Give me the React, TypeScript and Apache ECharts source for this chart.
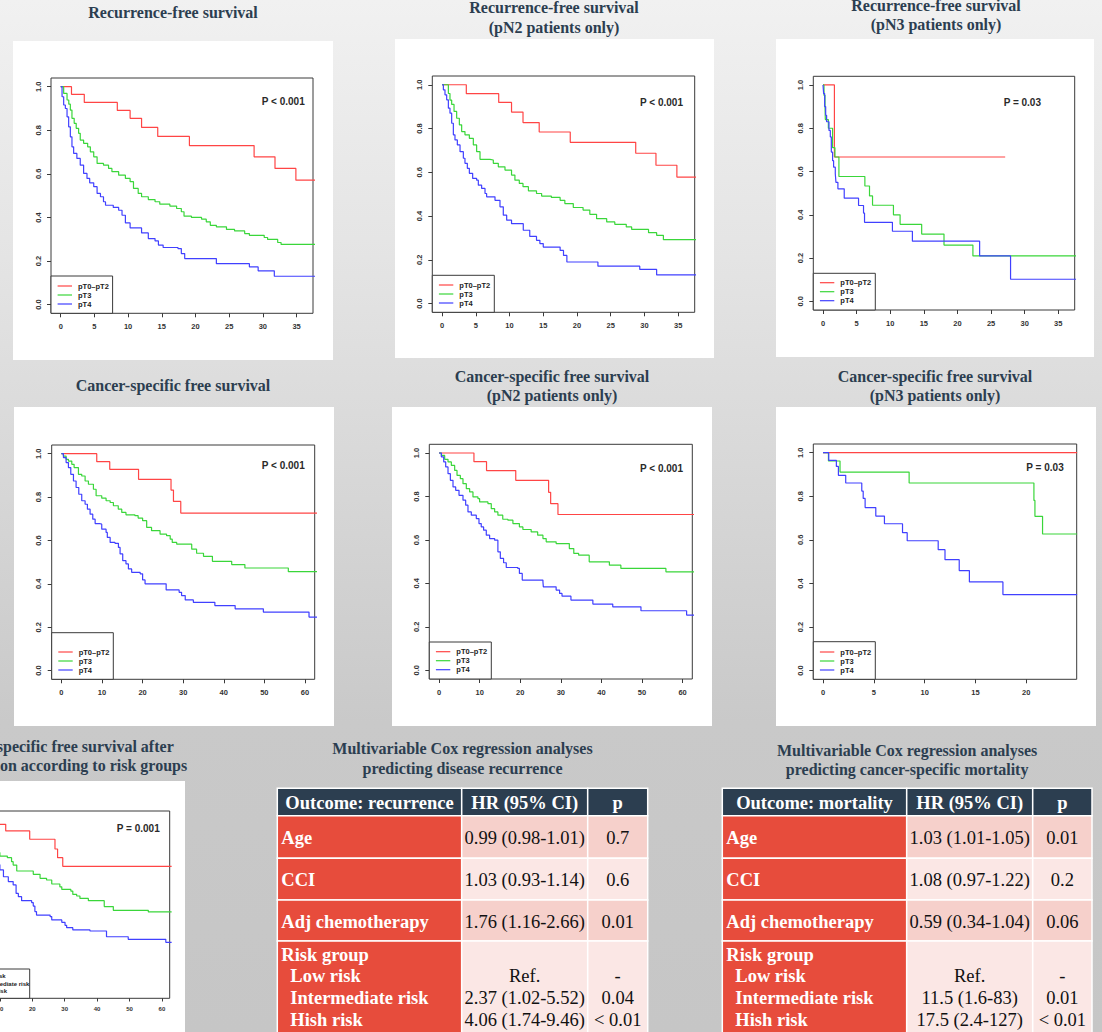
import React, { useEffect, useRef } from "react";
import * as echarts from "echarts";

type KM = [number, number][];

// ---------- Kaplan-Meier step data: [time (months), survival] ----------
// Recurrence-free survival, all patients
const RFS_ALL_PT02: KM = [[0,1],[1.6,0.965],[3.5,0.928],[8.4,0.891],[10.3,0.855],[12.0,0.813],[14.4,0.772],[19.1,0.73],[28.7,0.678],[31.8,0.625],[34.9,0.571],[38,0.571]];
const RFS_ALL_PT3: KM = [[0,1],[0.44,0.969],[0.94,0.939],[1.2,0.92],[1.43,0.893],[1.67,0.855],[2.0,0.832],[2.3,0.809],[2.66,0.786],[2.9,0.755],[3.4,0.74],[4.0,0.724],[4.4,0.701],[4.9,0.678],[5.4,0.648],[6.35,0.64],[7.1,0.625],[7.6,0.61],[8.6,0.594],[9.6,0.579],[10.3,0.564],[10.8,0.533],[11.5,0.51],[12.0,0.495],[13.0,0.482],[14.0,0.472],[14.7,0.461],[16.2,0.452],[17.2,0.441],[17.9,0.426],[18.3,0.406],[19.4,0.4],[20.9,0.392],[21.6,0.38],[22.2,0.364],[23.1,0.357],[24.6,0.345],[25.8,0.338],[27.3,0.326],[28.0,0.318],[30.2,0.308],[30.7,0.299],[32.2,0.285],[32.7,0.276],[38,0.276]];
const RFS_ALL_PT4: KM = [[0,1],[0.2,0.954],[0.44,0.916],[0.69,0.9],[0.94,0.862],[1.18,0.816],[1.43,0.77],[1.67,0.724],[1.92,0.694],[2.4,0.671],[2.9,0.64],[3.4,0.602],[3.9,0.579],[4.3,0.559],[4.9,0.541],[5.4,0.51],[5.9,0.495],[6.35,0.472],[6.65,0.456],[7.8,0.446],[8.6,0.433],[9.1,0.41],[9.6,0.375],[10.3,0.352],[12.0,0.329],[13.0,0.303],[14.0,0.292],[14.5,0.273],[15.2,0.262],[17.4,0.257],[17.9,0.234],[18.4,0.211],[23.1,0.188],[28.0,0.173],[29.3,0.155],[31.7,0.13],[38,0.13]];

// Recurrence-free survival, pN2 only
const RFS_PN2_PT02: KM = [[0,1],[3.6,0.959],[8.4,0.919],[10.3,0.875],[12.0,0.827],[14.4,0.784],[19.0,0.737],[28.7,0.687],[31.7,0.632],[34.8,0.578],[38,0.578]];
const RFS_PN2_PT3: KM = [[0,1],[0.69,1],[0.94,0.96],[1.18,0.93],[1.43,0.91],[1.78,0.878],[2.17,0.847],[2.57,0.817],[2.91,0.786],[3.4,0.771],[4.05,0.755],[4.64,0.725],[5.13,0.694],[5.63,0.659],[7.1,0.656],[7.6,0.641],[8.34,0.625],[9.33,0.61],[10.3,0.587],[10.8,0.564],[11.45,0.549],[12.0,0.534],[12.8,0.515],[14.0,0.503],[14.76,0.491],[16.2,0.485],[17.5,0.472],[18.2,0.457],[19.45,0.439],[20.9,0.427],[21.9,0.408],[22.9,0.388],[24.4,0.373],[25.6,0.362],[27.3,0.35],[28.1,0.339],[30.6,0.324],[31.8,0.312],[32.8,0.292],[38,0.292]];
const RFS_PN2_PT4: KM = [[0,1],[0.2,0.977],[0.44,0.954],[0.69,0.931],[0.94,0.893],[1.18,0.87],[1.43,0.824],[1.68,0.771],[1.92,0.748],[2.27,0.725],[2.67,0.694],[3.16,0.664],[3.4,0.641],[3.75,0.618],[4.05,0.595],[4.54,0.572],[5.13,0.564],[5.38,0.541],[5.87,0.526],[6.37,0.503],[6.61,0.488],[7.85,0.472],[8.59,0.442],[9.08,0.404],[9.58,0.381],[10.3,0.365],[12.04,0.335],[13.0,0.307],[14.0,0.289],[14.5,0.274],[15.0,0.258],[17.5,0.243],[18.0,0.22],[18.5,0.19],[23.1,0.171],[29.3,0.156],[31.8,0.131],[38,0.131]];

// Recurrence-free survival, pN3 only
const RFS_PN3_PT02: KM = [[0,1],[1.7,0.667],[27.1,0.667]];
const RFS_PN3_PT3: KM = [[0,1],[0.15,0.952],[0.3,0.9],[0.35,0.84],[0.8,0.8],[1.43,0.71],[1.78,0.667],[2.37,0.577],[6.23,0.533],[6.92,0.487],[7.37,0.444],[10.48,0.4],[11.47,0.356],[14.68,0.311],[18.0,0.26],[22.3,0.21],[38,0.21]];
const RFS_PN3_PT4: KM = [[0,1],[0.1,0.96],[0.25,0.9],[0.4,0.86],[0.54,0.83],[0.89,0.79],[1.09,0.76],[1.24,0.69],[1.43,0.65],[1.58,0.62],[1.83,0.59],[1.93,0.55],[2.22,0.52],[3.16,0.477],[5.29,0.443],[6.03,0.408],[6.18,0.365],[10.33,0.324],[13.3,0.278],[23.3,0.21],[27.9,0.102],[38,0.102]];

// Cancer-specific free survival, all patients
const CSS_ALL_PT02: KM = [[0,1],[8.7,0.963],[11.9,0.928],[19.0,0.882],[27.0,0.832],[27.6,0.78],[29.4,0.726],[63,0.726]];
const CSS_ALL_PT3: KM = [[0,1],[0.49,0.989],[1.15,0.974],[1.72,0.966],[2.55,0.951],[3.12,0.936],[4.19,0.905],[5.0,0.897],[5.83,0.874],[6.65,0.859],[7.88,0.836],[8.54,0.806],[9.93,0.795],[11.0,0.783],[12.0,0.775],[12.8,0.76],[14.0,0.744],[14.86,0.729],[15.9,0.718],[18.1,0.714],[18.9,0.703],[20.0,0.691],[21.0,0.66],[22.2,0.645],[24.3,0.629],[25.9,0.622],[26.8,0.606],[27.3,0.591],[28.4,0.583],[32.1,0.56],[33.3,0.541],[35.0,0.527],[37.2,0.504],[41.95,0.489],[45.2,0.473],[55.9,0.456],[63,0.456]];
const CSS_ALL_PT4: KM = [[0,1],[0.49,0.982],[1.15,0.959],[1.72,0.936],[2.3,0.905],[2.96,0.874],[3.61,0.844],[4.27,0.813],[5.0,0.783],[5.83,0.767],[6.4,0.744],[7.06,0.721],[7.72,0.698],[8.3,0.678],[9.36,0.675],[9.93,0.652],[11.0,0.637],[11.3,0.614],[12.0,0.591],[13.2,0.587],[14.04,0.568],[14.45,0.538],[15.1,0.507],[15.9,0.492],[16.5,0.469],[17.3,0.453],[19.4,0.446],[20.0,0.418],[20.6,0.4],[25.8,0.372],[29.0,0.361],[29.6,0.346],[30.5,0.326],[32.5,0.315],[37.8,0.3],[42.8,0.285],[49.75,0.27],[61.0,0.247],[63,0.247]];

// Cancer-specific free survival, pN2 only
const CSS_PN2_PT02: KM = [[0,1],[8.6,0.96],[11.7,0.919],[18.9,0.874],[27.0,0.819],[27.5,0.767],[29.3,0.717],[63,0.717]];
const CSS_PN2_PT3: KM = [[0,1],[0.57,0.989],[1.39,0.971],[2.21,0.959],[3.03,0.943],[3.85,0.92],[4.43,0.897],[5.25,0.882],[5.9,0.859],[6.72,0.836],[7.54,0.821],[8.36,0.798],[9.59,0.79],[10.0,0.775],[12.05,0.767],[12.87,0.744],[13.7,0.729],[14.5,0.714],[15.7,0.695],[16.97,0.691],[18.2,0.675],[19.8,0.66],[20.66,0.648],[22.7,0.637],[24.3,0.622],[25.6,0.606],[26.4,0.591],[28.85,0.583],[32.1,0.56],[33.2,0.538],[34.4,0.53],[37.0,0.499],[41.97,0.484],[44.8,0.469],[55.9,0.453],[63,0.453]];
const CSS_PN2_PT4: KM = [[0,1],[0.57,0.982],[1.15,0.959],[1.64,0.936],[2.21,0.905],[2.79,0.874],[3.44,0.844],[4.1,0.828],[4.92,0.805],[5.9,0.783],[6.56,0.76],[7.13,0.729],[7.95,0.714],[9.18,0.698],[9.84,0.675],[10.4,0.66],[10.98,0.645],[11.64,0.622],[12.46,0.606],[13.7,0.599],[14.5,0.545],[15.1,0.515],[15.9,0.495],[16.56,0.473],[19.4,0.469],[19.8,0.446],[20.5,0.415],[25.6,0.407],[25.7,0.384],[28.85,0.369],[29.7,0.354],[30.3,0.341],[32.5,0.323],[37.9,0.305],[42.8,0.292],[49.75,0.274],[61.0,0.254],[63,0.254]];

// Cancer-specific free survival, pN3 only
const CSS_PN3_PT02: KM = [[0,1],[25,1]];
const CSS_PN3_PT3: KM = [[0,1],[0.53,0.962],[1.67,0.911],[8.47,0.861],[20.75,0.781],[20.85,0.708],[21.6,0.627],[25,0.627]];
const CSS_PN3_PT4: KM = [[0,1],[0.56,0.965],[1.31,0.937],[1.51,0.896],[2.23,0.861],[3.81,0.824],[3.95,0.79],[4.14,0.748],[5.19,0.709],[6.04,0.674],[7.82,0.633],[8.28,0.596],[11.33,0.555],[12.0,0.509],[13.4,0.459],[14.4,0.407],[17.7,0.349],[25,0.349]];

// Cancer-specific free survival by risk group
const CSS_RISK_LOW: KM = [[0,1],[5,0.963],[11.8,0.925],[19.2,0.877],[27.0,0.821],[27.8,0.771],[29.4,0.721],[63,0.721]];
const CSS_RISK_INT: KM = [[0,1],[1,0.985],[2,0.965],[3,0.94],[4.5,0.91],[6,0.875],[7.5,0.84],[9,0.8],[10,0.78],[12.3,0.771],[13.6,0.748],[14.1,0.728],[15.2,0.694],[20.3,0.675],[22.4,0.652],[24.4,0.642],[26.0,0.619],[28.5,0.603],[29.1,0.588],[31.9,0.578],[32.5,0.559],[33.7,0.55],[34.7,0.536],[37.3,0.523],[42.2,0.489],[45.0,0.467],[55.8,0.458],[63,0.458]];
const CSS_RISK_HIGH: KM = [[0,1],[1,0.97],[2,0.94],[3,0.9],[4.5,0.86],[6,0.82],[7.5,0.78],[9,0.73],[10,0.7],[11.1,0.661],[12.6,0.633],[14.1,0.614],[15.0,0.565],[15.7,0.546],[16.7,0.523],[19.8,0.512],[20.3,0.492],[20.8,0.46],[21.3,0.44],[25.5,0.431],[26.0,0.412],[29.1,0.398],[30.1,0.381],[30.6,0.367],[32.5,0.354],[37.8,0.348],[42.9,0.315],[49.6,0.3],[61.2,0.283],[63,0.283]];

// ---------- labels ----------
const T_GROUPS = ["pT0–pT2", "pT3", "pT4"];
const RISK_GROUPS = ["Low risk", "Intermediate risk", "High risk"];
const RFS_TICKS = [0, 5, 10, 15, 20, 25, 30, 35];
const CSS_TICKS = [0, 10, 20, 30, 40, 50, 60];
const CSS_VISIBLE_TICK_LABELS = [10, 20, 30, 40, 50, 60];
const PN3_CSS_TICKS = [0, 5, 10, 15, 20];
const Y_TICKS = [0, 0.2, 0.4, 0.6, 0.8, 1.0];
const P_VALUES = ["P < 0.001", "P < 0.001", "P = 0.03", "P < 0.001", "P < 0.001", "P = 0.03", "P = 0.001"];

const REC_TITLE = ["Multivariable Cox regression analyses", "predicting disease recurrence"];
const MORT_TITLE = ["Multivariable Cox regression analyses", "predicting cancer-specific mortality"];
const REC_HEADER = ["Outcome: recurrence", "HR (95% CI)", "p"];
const MORT_HEADER = ["Outcome: mortality", "HR (95% CI)", "p"];
const COVARIATES = ["Age", "CCI", "Adj chemotherapy"];
const RISK_GROUP_LABEL = "Risk group";
const RISK_LEVELS = ["Low risk", "Intermediate risk", "Hish risk"];
const REC_HR = ["0.99 (0.98-1.01)", "1.03 (0.93-1.14)", "1.76 (1.16-2.66)"];
const REC_P = ["0.7", "0.6", "0.01"];
const REC_RISK_HR = ["Ref.", "2.37 (1.02-5.52)", "4.06 (1.74-9.46)"];
const REC_RISK_P = ["-", "0.04", "< 0.01"];
const MORT_HR = ["1.03 (1.01-1.05)", "1.08 (0.97-1.22)", "0.59 (0.34-1.04)"];
const MORT_P = ["0.01", "0.2", "0.06"];
const MORT_RISK_HR = ["Ref.", "11.5 (1.6-83)", "17.5 (2.4-127)"];
const MORT_RISK_P = ["-", "0.01", "< 0.01"];

// ---------- styles ----------
const SERIF = "'Liberation Serif', 'Times New Roman', Times, serif";
const SANS = "'Liberation Sans', Arial, Helvetica, sans-serif";
const TITLE_COLOR = "#2c3e50";
const FRAME = "#3a3a3a";
const CURVE_COLORS = ["#ff4545", "#3ad63a", "#4040ff"];

const PANELS = [
  { title: ["Recurrence-free survival"], tx: 173, ty: [12], box: [13, 41, 320, 319], grid: [51, 78, 262, 235.3], xr: [-1.44, 37.44], xt: RFS_TICKS, xl: RFS_TICKS, yl: true, curves: [RFS_ALL_PT02, RFS_ALL_PT3, RFS_ALL_PT4], names: T_GROUPS, p: P_VALUES[0], pp: [304.7, 101.7], lt: 276, lw: 61.6, fs: 1 },
  { title: ["Recurrence-free survival", "(pN2 patients only)"], tx: 554, ty: [7, 27], box: [395, 39, 319, 319], grid: [432.3, 76, 262.4, 236.3], xr: [-1.44, 37.44], xt: RFS_TICKS, xl: RFS_TICKS, yl: true, curves: [RFS_PN2_PT02, RFS_PN2_PT3, RFS_PN2_PT4], names: T_GROUPS, p: P_VALUES[1], pp: [683, 102.7], lt: 275.3, lw: 62, fs: 1 },
  { title: ["Recurrence-free survival", "(pN3 patients only)"], tx: 936, ty: [5, 24], box: [776, 39, 318, 318], grid: [813.3, 76.3, 261.4, 233.7], xr: [-1.44, 37.44], xt: RFS_TICKS, xl: RFS_TICKS, yl: true, curves: [RFS_PN3_PT02, RFS_PN3_PT3, RFS_PN3_PT4], names: T_GROUPS, p: P_VALUES[2], pp: [1041, 102], lt: 273.3, lw: 62, fs: 1 },
  { title: ["Cancer-specific free survival"], tx: 173, ty: [385], box: [14, 407, 320, 319], grid: [51.7, 445, 263, 234.3], xr: [-2.4, 62.4], xt: CSS_TICKS, xl: CSS_TICKS, yl: true, curves: [CSS_ALL_PT02, CSS_ALL_PT3, CSS_ALL_PT4], names: T_GROUPS, p: P_VALUES[3], pp: [304.7, 465.3], lt: 632.7, lw: 61.6, fs: 1 },
  { title: ["Cancer-specific free survival", "(pN2 patients only)"], tx: 552, ty: [376, 395], box: [392, 407, 320, 319], grid: [429.3, 444.3, 263, 234.7], xr: [-2.4, 62.4], xt: CSS_TICKS, xl: CSS_TICKS, yl: true, curves: [CSS_PN2_PT02, CSS_PN2_PT3, CSS_PN2_PT4], names: T_GROUPS, p: P_VALUES[4], pp: [683, 468.3], lt: 642, lw: 62, fs: 1 },
  { title: ["Cancer-specific free survival", "(pN3 patients only)"], tx: 935, ty: [376, 395], box: [776, 407, 320, 319], grid: [813.3, 444, 263.4, 235.3], xr: [-0.96, 24.96], xt: PN3_CSS_TICKS, xl: PN3_CSS_TICKS, yl: true, curves: [CSS_PN3_PT02, CSS_PN3_PT3, CSS_PN3_PT4], names: T_GROUPS, p: P_VALUES[5], pp: [1063.7, 467.3], lt: 641.7, lw: 62, fs: 1 },
  { title: ["Cancer-specific free survival after", "stratification according to risk groups"], tx: 58, ty: [746, 765.5], box: [-71, 781, 256, 300], grid: [-40.3, 811, 210, 187.3], xr: [-2.4, 62.4], xt: CSS_TICKS, xl: CSS_VISIBLE_TICK_LABELS, yl: false, curves: [CSS_RISK_LOW, CSS_RISK_INT, CSS_RISK_HIGH], names: RISK_GROUPS, p: P_VALUES[6], pp: [159.7, 828.3], lt: 969, lw: 70, fs: 0.8 },
];

function txt(x: number, y: number, text: string, font: { size: number; family: string; weight?: string; color: string; align?: string }, z = 60) {
  return {
    type: "text",
    x,
    y,
    z,
    silent: true,
    style: {
      text,
      fill: font.color,
      fontSize: font.size,
      fontFamily: font.family,
      fontWeight: font.weight || "normal",
      align: font.align || "left",
      textAlign: font.align || "left",
      verticalAlign: "middle",
      textVerticalAlign: "middle",
    },
  };
}

function buildTable(
  cols: number[],
  title: string[],
  titleY: number[],
  header: string[],
  hr: string[],
  pv: string[],
  riskHr: string[],
  riskP: string[]
) {
  const els: any[] = [];
  const rows = [788.3, 815.7, 858.3, 900, 941, 1050];
  const valueFills = ["#f6d0cb", "#fbe7e5", "#f6d0cb", "#fbe7e5"];
  const cx = (c: number) => (cols[c] + cols[c + 1]) / 2;
  const FS = 18.5;
  title.forEach((t, i) =>
    els.push(txt((cols[0] + cols[3]) / 2, titleY[i], t, { size: 16, family: SERIF, weight: "bold", color: TITLE_COLOR, align: "center" }))
  );
  for (let r = 0; r < rows.length - 1; r++) {
    for (let c = 0; c < 3; c++) {
      const fill = r === 0 ? "#2c3e50" : c === 0 ? "#e74c3c" : valueFills[r - 1];
      els.push({
        type: "rect",
        z: 40,
        silent: true,
        shape: { x: cols[c], y: rows[r], width: cols[c + 1] - cols[c], height: rows[r + 1] - rows[r] },
        style: { fill, stroke: "#ffffff", lineWidth: 1.5 },
      });
    }
  }
  const hy = (rows[0] + rows[1]) / 2 + 1;
  header.forEach((h, c) =>
    els.push(txt(cx(c), hy, h, { size: FS, family: SERIF, weight: "bold", color: "#ffffff", align: "center" }))
  );
  COVARIATES.forEach((name, i) => {
    const y = (rows[i + 1] + rows[i + 2]) / 2 + 1;
    els.push(txt(cols[0] + 4, y, name, { size: FS, family: SERIF, weight: "bold", color: "#ffffff" }));
    els.push(txt(cx(1), y, hr[i], { size: FS, family: SERIF, color: "#111111", align: "center" }));
    els.push(txt(cx(2), y, pv[i], { size: FS, family: SERIF, color: "#111111", align: "center" }));
  });
  const ly = [955, 975.7, 998.3, 1020];
  els.push(txt(cols[0] + 4, ly[0], RISK_GROUP_LABEL, { size: FS, family: SERIF, weight: "bold", color: "#ffffff" }));
  RISK_LEVELS.forEach((name, i) => {
    els.push(txt(cols[0] + 13, ly[i + 1], name, { size: FS, family: SERIF, weight: "bold", color: "#ffffff" }));
    els.push(txt(cx(1), ly[i + 1], riskHr[i], { size: FS, family: SERIF, color: "#111111", align: "center" }));
    els.push(txt(cx(2), ly[i + 1], riskP[i], { size: FS, family: SERIF, color: "#111111", align: "center" }));
  });
  return els;
}

function buildOption() {
  const grid: any[] = [];
  const xAxis: any[] = [];
  const yAxis: any[] = [];
  const series: any[] = [];
  const graphics: any[] = [];

  PANELS.forEach((p, i) => {
    const [gl, gt, gw, gh] = p.grid;
    const fs = p.fs;
    grid.push({
      left: gl, top: gt, width: gw, height: gh,
      show: true, borderColor: FRAME, borderWidth: 1, backgroundColor: "rgba(0,0,0,0)",
      containLabel: false, outerBoundsMode: "none",
    });
    const labelStyle = { fontSize: 7.5 * fs, fontFamily: SANS, fontWeight: "bold", color: "#333333", margin: 9 * fs };
    xAxis.push({
      gridIndex: i, type: "value", min: p.xr[0], max: p.xr[1],
      axisLine: { show: false, onZero: false },
      axisTick: { show: true, inside: false, length: 4 * fs, customValues: p.xt, lineStyle: { color: FRAME, width: 1 } },
      axisLabel: { show: true, customValues: p.xl, formatter: (v: number) => String(v), ...labelStyle },
      splitLine: { show: false },
    });
    yAxis.push({
      gridIndex: i, type: "value", min: -0.04, max: 1.04,
      axisLine: { show: false, onZero: false },
      axisTick: { show: p.yl, inside: false, length: 4 * fs, customValues: Y_TICKS, lineStyle: { color: FRAME, width: 1 } },
      axisLabel: { show: p.yl, customValues: Y_TICKS, rotate: 90, formatter: (v: number) => v.toFixed(1), ...labelStyle },
      splitLine: { show: false },
    });
    p.curves.forEach((data, j) => {
      series.push({
        type: "line",
        name: p.names[j],
        xAxisIndex: i,
        yAxisIndex: i,
        data,
        step: "end",
        symbol: "none",
        showSymbol: false,
        clip: true,
        silent: true,
        z: 3,
        lineStyle: { color: CURVE_COLORS[j], width: 1.2 },
        itemStyle: { color: CURVE_COLORS[j] },
      });
    });

    // white plotting-device background
    const [bx, by, bw, bh] = p.box;
    graphics.push({ type: "rect", z: -10, silent: true, shape: { x: bx, y: by, width: bw, height: bh }, style: { fill: "#ffffff" } });
    // titles
    p.title.forEach((t, k) =>
      graphics.push(txt(p.tx, p.ty[k], t, { size: 16, family: SERIF, weight: "bold", color: TITLE_COLOR, align: "center" }))
    );
    // p value
    graphics.push(txt(p.pp[0], p.pp[1], p.p, { size: 10, family: SANS, weight: "bold", color: "#2a2a2a", align: "right" }));
    // legend box
    const bottom = gt + gh;
    graphics.push({
      type: "rect", z: 50, silent: true,
      shape: { x: gl, y: p.lt, width: p.lw, height: bottom - p.lt },
      style: { fill: "#ffffff", stroke: FRAME, lineWidth: 1 },
    });
    const rowOff = [27.3, 18.3, 9.3];
    p.names.forEach((n, j) => {
      const y = bottom - rowOff[j] * fs;
      graphics.push({
        type: "line", z: 55, silent: true,
        shape: { x1: gl + 6.6 * fs, y1: y, x2: gl + 21 * fs, y2: y },
        style: { stroke: CURVE_COLORS[j], lineWidth: 1.2 },
      });
      graphics.push(txt(gl + 27 * fs, y, n, { size: 7.5 * fs, family: SANS, weight: "bold", color: "#222222" }));
    });
  });

  graphics.push(
    ...buildTable([277.3, 461.7, 587.7, 647.7], REC_TITLE, [748.5, 768.5], REC_HEADER, REC_HR, REC_P, REC_RISK_HR, REC_RISK_P)
  );
  graphics.push(
    ...buildTable([722.3, 906.7, 1032.7, 1092], MORT_TITLE, [750.5, 769.5], MORT_HEADER, MORT_HR, MORT_P, MORT_RISK_HR, MORT_RISK_P)
  );

  return {
    animation: false,
    backgroundColor: "rgba(0,0,0,0)",
    grid,
    xAxis,
    yAxis,
    series,
    graphic: { elements: graphics },
  };
}

export default function App() {
  const ref = useRef<HTMLDivElement>(null);
  useEffect(() => {
    if (!ref.current) return;
    const chart = echarts.init(ref.current, undefined, { renderer: "svg" });
    chart.setOption(buildOption() as any);
    return () => chart.dispose();
  }, []);
  return (
    <div
      ref={ref}
      style={{
        position: "fixed",
        left: 0,
        top: 0,
        width: 1102,
        height: 1032,
        background: "linear-gradient(to bottom, #f1f1f1 0%, #e4e4e4 25%, #d8d8d8 45%, #c9c9c9 70%, #c6c6c6 100%)",
      }}
    />
  );
}
